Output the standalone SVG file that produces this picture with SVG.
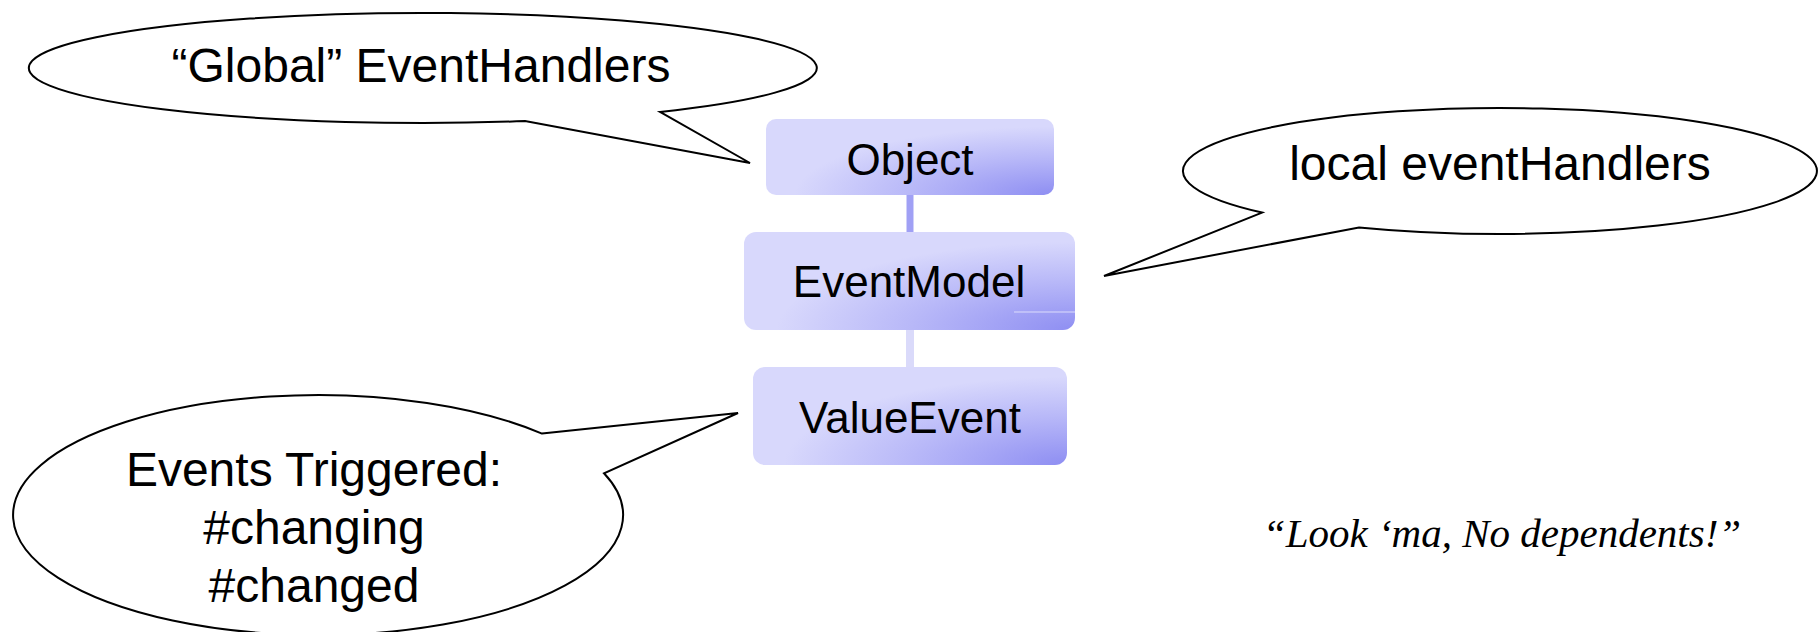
<svg xmlns="http://www.w3.org/2000/svg" width="1818" height="632" viewBox="0 0 1818 632">
  <defs>
    <radialGradient id="boxFill" cx="1" cy="1" r="0.9" fx="1" fy="1">
      <stop offset="0" stop-color="#8e8ef2"/>
      <stop offset="0.55" stop-color="#b8b8f8"/>
      <stop offset="1" stop-color="#d8d8fc"/>
    </radialGradient>
    <style>
      .box { fill: url(#boxFill); stroke: none; }
      .boxText { font-family: "Liberation Sans", Arial, sans-serif; font-size: 44px; fill: #000; text-anchor: middle; }
      .callout { fill: #fff; stroke: #000; stroke-width: 2; stroke-linejoin: miter; }
      .calloutText { font-family: "Liberation Sans", Arial, sans-serif; font-size: 48px; fill: #000; text-anchor: middle; }
      .quote { font-family: "Liberation Serif", "Times New Roman", serif; font-style: italic; font-size: 41px; fill: #000; text-anchor: middle; }
    </style>
  </defs>
  <rect width="1818" height="632" fill="#fff"/>

  <g id="connectors">
    <line x1="910" y1="195" x2="910" y2="232" stroke="#a0a0f5" stroke-width="7"/>
    <line x1="910" y1="330" x2="910" y2="367" stroke="#dadafa" stroke-width="8"/>
  </g>

  <g id="node-object">
    <rect class="box" x="766" y="119" width="288" height="76" rx="10"/>
    <text class="boxText" x="910" y="175">Object</text>
  </g>

  <g id="node-eventmodel">
    <rect class="box" x="744" y="232" width="331" height="98" rx="12"/>
    <line x1="1014" y1="312" x2="1075" y2="312" stroke="#dcdcfc" stroke-width="1"/>
    <text class="boxText" x="909" y="297">EventModel</text>
  </g>

  <g id="node-valueevent">
    <rect class="box" x="753" y="367" width="314" height="98" rx="12"/>
    <text class="boxText" x="910" y="433">ValueEvent</text>
  </g>

  <g id="callout-global">
    <path class="callout" d="M 660 111.9 L 750 163 L 525 121.1 A 394 55 0 1 1 660 111.9 Z"/>
    <text class="calloutText" x="421" y="82">“Global” EventHandlers</text>
  </g>

  <g id="callout-local">
    <path class="callout" d="M 1262 212.6 L 1104 276 L 1359 227.4 A 317 63 0 1 0 1262 212.6 Z"/>
    <text class="calloutText" x="1500" y="180">local eventHandlers</text>
  </g>

  <g id="callout-events">
    <path class="callout" d="M 542 433.6 L 738 413 L 604 473.3 A 305 120 0 1 1 542 433.6 Z"/>
    <text class="calloutText" x="314" y="486">Events Triggered:</text>
    <text class="calloutText" x="314" y="544">#changing</text>
    <text class="calloutText" x="314" y="602">#changed</text>
  </g>

  <g id="quote">
    <text class="quote" x="1502" y="547">“Look ‘ma, No dependents!”</text>
  </g>
</svg>
